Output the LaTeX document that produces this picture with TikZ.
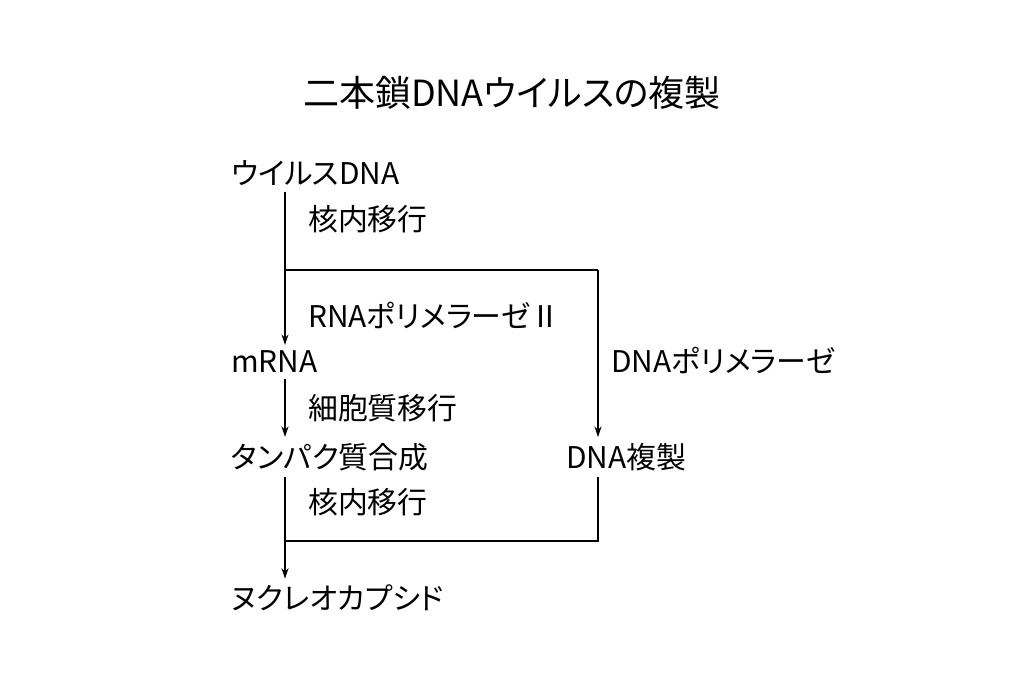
\documentclass[tikz,border=0pt]{standalone}
\usepackage{fontspec}
\setmainfont{Noto Sans CJK JP}[RawFeature=+palt]
\usepackage{tikz}
\usetikzlibrary{arrows.meta, positioning, calc}

\begin{document}
\begin{tikzpicture}[
    label/.style={anchor=west, font=\fontsize{17}{20}\selectfont},
    flow/.style={-{Stealth[length=6pt, width=4pt]}, semithick},
    link/.style={semithick}
]
    \useasboundingbox (0,0) rectangle (20.46,-13.64);

    % Title
    \node[font=\fontsize{20.5}{24}\selectfont] (title) at (10.24,-1.86) {二本鎖DNAウイルスの複製};

    % Steps
    \node[label] (virus) at (4.50,-3.46) {ウイルスDNA};
    \node[label] (mrna) at (4.50,-7.24) {mRNA};
    \node[label] (protein) at (4.50,-9.14) {タンパク質合成};
    \node[label] (capsid) at (4.50,-11.96) {ヌクレオカプシド};
    \node[label] (replica) at (11.20,-9.14) {DNA複製};

    % Side labels
    \node[label] (import1) at (6.04,-4.38) {核内移行};
    \node[label] (rnapol) at (6.04,-6.30) {RNAポリメラーゼⅡ};
    \node[label] (cyto) at (6.04,-8.16) {細胞質移行};
    \node[label] (import2) at (6.04,-10.04) {核内移行};
    \node[label] (dnapol) at (12.10,-7.20) {DNAポリメラーゼ};

    % Junctions
    \coordinate (jl) at (5.70,-5.40);
    \coordinate (jr) at (11.96,-5.40);
    \coordinate (bl) at (5.70,-10.82);
    \coordinate (br) at (11.96,-10.82);

    % Connectors
    \draw[flow] (virus.south -| jl) -- (mrna.north -| jl);
    \draw[link] (jl) -- (jr);
    \draw[flow] (jr) -- (replica.north -| jr);
    \draw[flow] (mrna.south -| jl) -- (protein.north -| jl);
    \draw[flow] (protein.south -| bl) -- (capsid.north -| bl);
    \draw[link] (replica.south -| br) -- (br) -- (bl);
\end{tikzpicture}
\end{document}
